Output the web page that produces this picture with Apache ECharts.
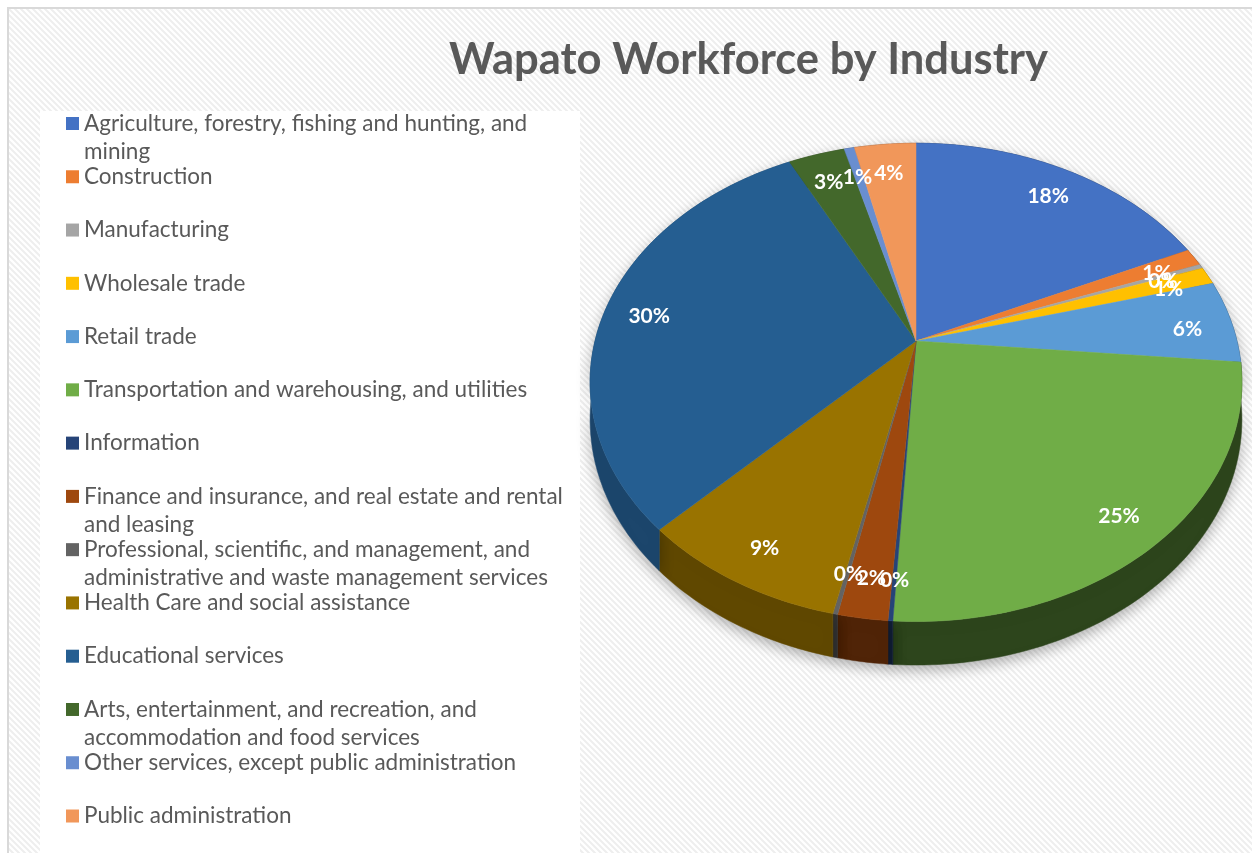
<!DOCTYPE html>
<html>
<head>
<meta charset="utf-8">
<title>Wapato Workforce by Industry</title>
<script src="https://cdn.jsdelivr.net/npm/echarts@6/dist/echarts.min.js"></script>
<style>
html, body { margin: 0; padding: 0; background: #fff; }
#chart { width: 1252px; height: 853px; }
</style>
</head>
<body>
<div id="chart"></div>
<script>
// categories, legend text (with Excel's line breaks) and shares in percent
var categories = [
    'Agriculture, forestry, fishing and hunting, and mining',
    'Construction',
    'Manufacturing',
    'Wholesale trade',
    'Retail trade',
    'Transportation and warehousing, and utilities',
    'Information',
    'Finance and insurance, and real estate and rental and leasing',
    'Professional, scientific, and management, and administrative and waste management services',
    'Health Care and social assistance',
    'Educational services',
    'Arts, entertainment, and recreation, and accommodation and food services',
    'Other services, except public administration',
    'Public administration'
];
var legendLabels = [
    'Agriculture, forestry, fishing and hunting, and\nmining',
    'Construction',
    'Manufacturing',
    'Wholesale trade',
    'Retail trade',
    'Transportation and warehousing, and utilities',
    'Information',
    'Finance and insurance, and real estate and rental\nand leasing',
    'Professional, scientific, and management, and\nadministrative and waste management services',
    'Health Care and social assistance',
    'Educational services',
    'Arts, entertainment, and recreation, and\naccommodation and food services',
    'Other services, except public administration',
    'Public administration'
];
var shares = [18.1, 1.2, 0.3, 1.2, 5.6, 24.5, 0.2, 2.1, 0.2, 8.9, 30.1, 3.3, 0.6, 3.6];
var colors = [
    '#4472C4', '#ED7D31', '#A5A5A5', '#FFC000', '#5B9BD5', '#70AD47', '#264478',
    '#9E480E', '#636363', '#997300', '#255E91', '#43682B', '#698ED0', '#F1975A'
];

var FONT = 'Lato, "Open Sans", sans-serif';

// tilted pie geometry (simple perspective)
var CX = 916, CY = 341, RX = 321, RY = 232, K = 0.173, DEPTH = 36;
var LABEL_R = 0.86;

function project(theta, f, drop) {
    var u = Math.sin(theta) * f;
    var v = -Math.cos(theta) * f;
    var s = 1 / (1 - K * v);
    return [CX + RX * u * s, CY + RY * v * s + (drop ? DEPTH * s : 0)];
}

function darken(hex, t) {
    var n = parseInt(hex.slice(1), 16);
    var r = Math.round(((n >> 16) & 255) * t);
    var g = Math.round(((n >> 8) & 255) * t);
    var b = Math.round((n & 255) * t);
    return 'rgb(' + r + ',' + g + ',' + b + ')';
}

var total = shares.reduce(function (a, b) { return a + b; }, 0);

function renderSlice(params, api) {
    var a0 = api.value(0);
    var a1 = api.value(1);
    var color = api.visual('color');
    var steps = Math.max(2, Math.ceil((a1 - a0) / 0.02));
    var rim = [], low = [];
    for (var i = 0; i <= steps; i++) {
        var t = a0 + (a1 - a0) * i / steps;
        rim.push(project(t, 1, false));
        low.push(project(t, 1, true));
    }
    var mid = (a0 + a1) / 2;
    var u = Math.sin(mid);
    var shade = 0.4 + 0.35 * Math.pow(Math.max(0, -u), 0.6);
    var sideColor = darken(color, shade);
    var labelPos = project(mid, LABEL_R, false);
    var pct = Math.round(api.value(2) / total * 100) + '%';
    return {
        type: 'group',
        children: [
            {
                type: 'polygon',
                z2: 1,
                shape: { points: rim.concat(low.slice().reverse()) },
                style: {
                    fill: sideColor,
                    stroke: sideColor,
                    lineWidth: 0.5,
                    shadowBlur: 14,
                    shadowColor: 'rgba(0,0,0,0.3)',
                    shadowOffsetY: 5
                }
            },
            {
                type: 'polygon',
                z2: 2,
                shape: { points: [[CX, CY]].concat(rim) },
                style: { fill: color, stroke: color, lineWidth: 0.5 }
            },
            {
                type: 'text',
                z2: 3,
                x: labelPos[0],
                y: labelPos[1] + 5,
                style: {
                    text: pct,
                    fill: '#fff',
                    fontSize: 21,
                    fontWeight: 'bold',
                    fontFamily: FONT,
                    align: 'center',
                    verticalAlign: 'middle'
                }
            }
        ]
    };
}

var acc = 0;
var series = categories.map(function (name, i) {
    var a0 = acc / total * Math.PI * 2;
    acc += shares[i];
    var a1 = acc / total * Math.PI * 2;
    return {
        name: name,
        type: 'custom',
        coordinateSystem: 'none',
        silent: true,
        itemStyle: { color: colors[i] },
        data: [[a0, a1, shares[i]]],
        renderItem: renderSlice
    };
});

// one legend per entry so that the rows keep Excel's even spacing;
// wrapped entries get a blank first line so the marker sits on the first text line
var ROW_FIRST = 123.5, ROW_STEP = 53.27, LINE_H = 28;
var legends = categories.map(function (name, i) {
    var lines = legendLabels[i].split('\n').length;
    var extra = (lines - 1) * LINE_H;
    var text = lines > 1 ? '\n' + legendLabels[i] : legendLabels[i];
    return {
        orient: 'vertical',
        left: 66,
        top: ROW_FIRST + ROW_STEP * i - LINE_H / 2 - extra,
        padding: 0,
        icon: 'rect',
        itemWidth: 13,
        itemHeight: 13,
        selectedMode: false,
        formatter: function () { return text; },
        textStyle: {
            color: '#595959',
            fontSize: 22.5,
            fontFamily: FONT,
            lineHeight: LINE_H
        },
        data: [name]
    };
});

// faint diagonal hatch used by Excel's chart area
var hatch = document.createElement('canvas');
hatch.width = 6;
hatch.height = 6;
var hg = hatch.getContext('2d');
hg.fillStyle = '#ffffff';
hg.fillRect(0, 0, 6, 6);
hg.strokeStyle = '#eeeeee';
hg.lineWidth = 2;
hg.beginPath();
hg.moveTo(-1, -1); hg.lineTo(7, 7);
hg.moveTo(-1, 5); hg.lineTo(1, 7);
hg.moveTo(5, -1); hg.lineTo(7, 1);
hg.stroke();

var chart = echarts.init(document.getElementById('chart'));
chart.setOption({
    backgroundColor: '#fff',
    animation: false,
    title: {
        text: 'Wapato Workforce by Industry',
        left: 444,
        top: 33,
        textStyle: {
            color: '#595959',
            fontSize: 43.5,
            fontWeight: 'bold',
            fontFamily: FONT
        }
    },
    legend: legends,
    graphic: [
        {
            type: 'rect',
            z: -10,
            silent: true,
            shape: { x: 8, y: 8, width: 1260, height: 870 },
            style: { fill: { image: hatch, repeat: 'repeat' }, stroke: '#d9d9d9', lineWidth: 2 }
        },
        {
            type: 'rect',
            z: -9,
            silent: true,
            shape: { x: 40, y: 111, width: 540, height: 760 },
            style: { fill: '#ffffff' }
        }
    ],
    series: series
});
</script>
</body>
</html>
